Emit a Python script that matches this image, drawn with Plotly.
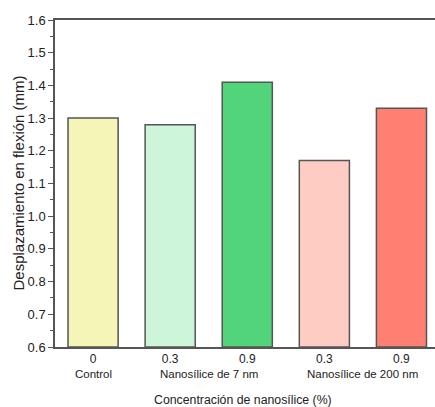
import plotly.graph_objects as go

positions = [0, 1, 2, 3, 4]
values = [1.30, 1.28, 1.41, 1.17, 1.33]
tick_labels = ["0", "0.3", "0.9", "0.3", "0.9"]
colors = ["#F5F5B8", "#CDF5DA", "#52D47A", "#FFCCC4", "#FF8073"]
group_labels = ["Control", "Nanosílice de 7 nm", "Nanosílice de 200 nm"]
group_centers = [0, 1.5, 3.5]
y_ticks = [0.6, 0.7, 0.8, 0.9, 1.0, 1.1, 1.2, 1.3, 1.4, 1.5, 1.6]
y_base = 0.6

FONT = "Liberation Sans, Arial, sans-serif"
AX = "#555555"
TXT = "#222222"

fig = go.Figure()
fig.add_trace(go.Bar(
    x=positions, y=[v - y_base for v in values], base=y_base, width=0.65,
    marker=dict(color=colors, line=dict(color="#555555", width=1.5)),
))

annotations = []
for lab, c in zip(group_labels, group_centers):
    annotations.append(dict(x=c, y=0, xref="x", yref="paper", text=lab,
                            showarrow=False, yanchor="middle", yshift=-27,
                            font=dict(family=FONT, size=11.5, color=TXT)))
annotations.append(dict(x=1.0, y=0, xref="x", yref="paper",
                        text="Concentración de nanosílice (%)",
                        showarrow=False, xanchor="center", yanchor="middle", yshift=-53,
                        xshift=73,
                        font=dict(family=FONT, size=12.3, color=TXT)))
annotations.append(dict(x=0, y=0.5, xref="paper", yref="paper",
                        text="Desplazamiento en flexión (mm)", textangle=-90,
                        showarrow=False, xanchor="center", xshift=-37,
                        font=dict(family=FONT, size=15, color=TXT)))

fig.update_layout(
    width=440, height=407,
    margin=dict(l=55, r=0, t=20, b=60),
    paper_bgcolor="white", plot_bgcolor="white",
    showlegend=False,
    annotations=annotations,
    font=dict(family=FONT, color=TXT),
    xaxis=dict(
        range=[-0.494, 4.5], automargin=False,
        tickvals=positions, ticktext=tick_labels,
        ticks="", showgrid=False, zeroline=False,
        showline=True, linecolor=AX, linewidth=1.5, mirror=True,
        tickfont=dict(family=FONT, size=12, color=TXT),
    ),
    yaxis=dict(
        range=[0.6, 1.6], automargin=False,
        tickvals=y_ticks, ticktext=[f"{t:.1f}" for t in y_ticks],
        ticks="outside", ticklen=5, tickwidth=1, tickcolor=AX,
        minor=dict(ticks="outside", dtick=0.05, tick0=0.6, ticklen=3, tickcolor=AX, showgrid=False),
        showgrid=False, zeroline=False,
        showline=True, linecolor=AX, linewidth=1.5,
        tickfont=dict(family=FONT, size=13, color=TXT),
    ),
)
fig.write_html(
    "out.html",
    config={"displayModeBar": False},
    post_script="document.body.style.margin='0';document.body.style.overflow='hidden';",
)
